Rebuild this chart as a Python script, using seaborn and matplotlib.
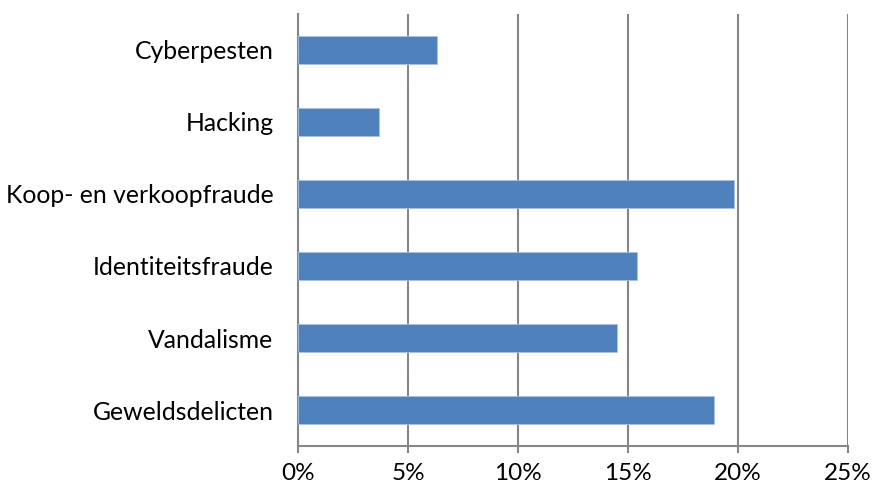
import matplotlib
matplotlib.use("Agg")
import matplotlib.pyplot as plt
import seaborn as sns
import pandas as pd
from matplotlib.ticker import PercentFormatter, MultipleLocator

categories = ["Cyberpesten", "Hacking", "Koop- en verkoopfraude",
              "Identiteitsfraude", "Vandalisme", "Geweldsdelicten"]
values = [6.3, 3.7, 19.8, 15.4, 14.5, 18.9]

df = pd.DataFrame({"categorie": categories, "percentage": values})

sns.set_style("white")
plt.rcParams["font.family"] = ["Lato", "DejaVu Sans"]
plt.rcParams["text.color"] = "black"

fig = plt.figure(figsize=(8.72, 4.91), dpi=100)
ax = fig.add_axes([0.3417, 0.0916, 0.6308, 0.88])

sns.barplot(data=df, x="percentage", y="categorie", order=categories,
            color="#4F81BD", width=0.4, saturation=1, ax=ax,
            edgecolor="#A9C0DE", linewidth=0.6, zorder=3)

ax.set_xlim(0, 25)
ax.xaxis.set_major_locator(MultipleLocator(5))
ax.xaxis.set_major_formatter(PercentFormatter(decimals=0))
ax.grid(axis="x", color="#868686", linewidth=1.5, zorder=0)
ax.set_axisbelow(True)

for side in ["top", "right"]:
    ax.spines[side].set_visible(False)
ax.spines["left"].set_color("#868686")
ax.spines["left"].set_linewidth(1.5)
ax.spines["bottom"].set_color("#868686")
ax.spines["bottom"].set_linewidth(1.5)

ax.tick_params(axis="x", bottom=True, direction="out", length=5, width=1.5,
               color="#868686", labelcolor="black", labelsize=17.5, pad=7)
ax.tick_params(axis="y", left=False, labelcolor="black", labelsize=17.8, pad=14)
ax.set_xlabel("")
ax.set_ylabel("")

fig.savefig("out.png", dpi=100)
